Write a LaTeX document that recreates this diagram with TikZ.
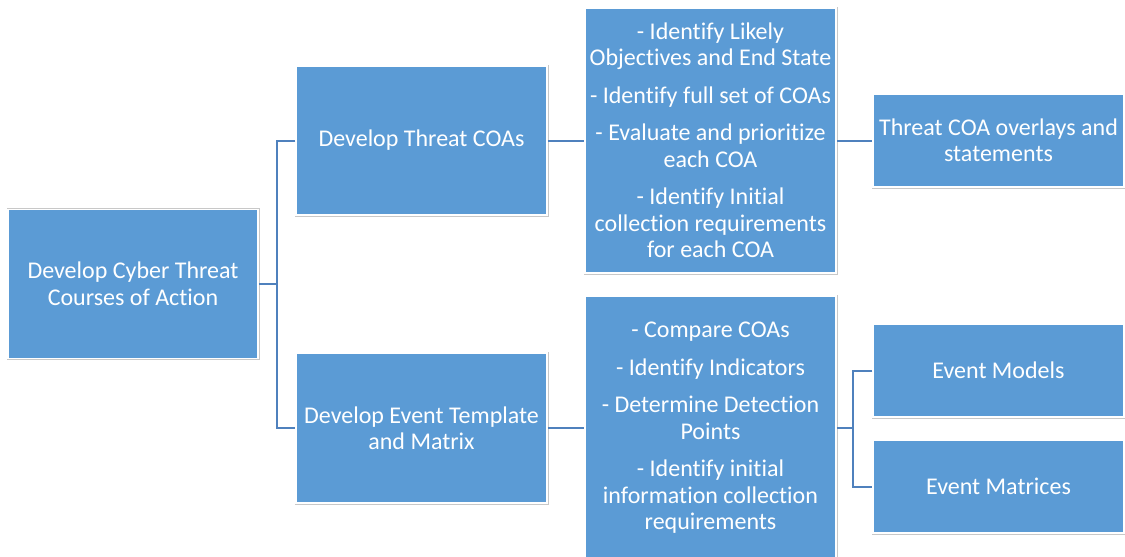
\documentclass[tikz,border=0pt]{standalone}
\usepackage{fontspec}
\setmainfont{Carlito}[Ligatures={NoCommon}]
\definecolor{boxblue}{HTML}{5B9BD5}
\definecolor{linkblue}{HTML}{4F81BD}
\definecolor{rimgray}{HTML}{C8C8C8}
\tikzset{
  box/.style={rectangle, fill=boxblue, draw=white, line width=1.5pt,
    preaction={draw=rimgray, line width=3pt},
    text=white, align=center, inner sep=0pt, anchor=center,
    font=\fontsize{24}{26.5}\selectfont},
  link/.style={draw=linkblue, line width=2pt}
}
\begin{document}
\begin{tikzpicture}[x=1pt,y=-1pt]
\clip (0,0) rectangle (1125,557);
\fill[white] (0,0) rectangle (1125,557);

\node[box, minimum width=250pt, minimum height=149pt] (root) at (133,284)
  {Develop Cyber Threat\\Courses of Action};
\node[box, minimum width=251pt, minimum height=149pt] (dtc) at (421.5,140.5)
  {Develop Threat COAs};
\node[box, minimum width=251pt, minimum height=150pt] (det) at (421.5,428)
  {Develop Event Template\\and Matrix};
\node[box, minimum width=251pt, minimum height=265pt] (m1) at (710.5,140.5)
  {- Identify Likely\\Objectives and End State\\[11pt]
   - Identify full set of COAs\\[11pt]
   - Evaluate and prioritize\\each COA\\[11pt]
   - Identify Initial\\collection requirements\\for each COA};
\node[box, minimum width=251pt, minimum height=264pt] (m2) at (710.5,428)
  {- Compare COAs\\[11pt]
   - Identify Indicators\\[11pt]
   - Determine Detection\\Points\\[11pt]
   - Identify initial\\information collection\\requirements};
\node[box, minimum width=251pt, minimum height=93pt] (ov) at (998.5,140.5)
  {Threat COA overlays and\\statements};
\node[box, minimum width=251pt, minimum height=93pt] (em) at (998.5,370.5)
  {Event Models};
\node[box, minimum width=251pt, minimum height=93pt] (ex) at (998.5,486.5)
  {Event Matrices};

\coordinate (j1) at (277,284);
\coordinate (j2) at (853,428);
\draw[link] (root.east) -- (j1);
\draw[link] (dtc.west) -| (j1) |- (det.west);
\draw[link] (dtc.east) -- (m1.west);
\draw[link] (m1.east) -- (ov.west);
\draw[link] (det.east) -- (m2.west);
\draw[link] (m2.east) -- (j2);
\draw[link] (em.west) -| (j2) |- (ex.west);
\end{tikzpicture}
\end{document}
